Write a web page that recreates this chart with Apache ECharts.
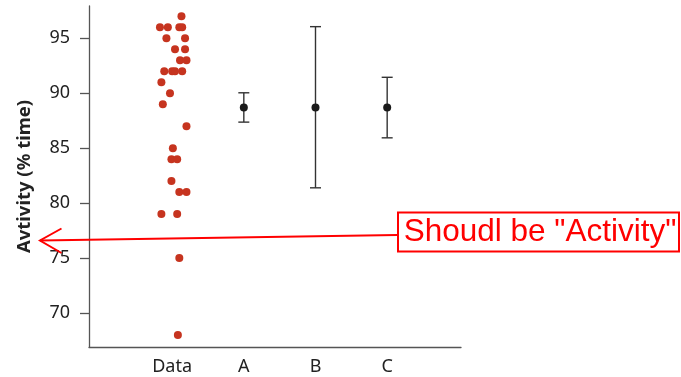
<!DOCTYPE html>
<html>
<head>
<meta charset="utf-8">
<script src="https://cdn.jsdelivr.net/npm/echarts@6/dist/echarts.min.js"></script>
<style>html,body{margin:0;padding:0;background:#fff}#c{width:681px;height:377px}</style>
</head>
<body>
<div id="c"></div>
<script>
// Category labels and their positions on the x scale
var categories = ['Data', 'A', 'B', 'C'];
var categoryPos = [1, 2, 3, 4];
var yTicks = [70, 75, 80, 85, 90, 95];

// Raw observations (x = jittered position around "Data", y = activity %)
var dataX = [1.13, 0.83, 0.94, 1.10, 1.14, 0.92, 1.18, 1.04, 1.18, 1.11, 1.20,
             0.89, 1.00, 1.04, 1.14, 0.85, 0.97, 0.87, 1.20, 1.01, 0.99, 1.07,
             0.99, 1.10, 1.20, 0.85, 1.07, 1.10, 1.08];
var dataY = [97, 96, 96, 96, 96, 95, 95, 94, 94, 93, 93,
             92, 92, 92, 92, 91, 90, 89, 87, 85, 84, 84,
             82, 81, 81, 79, 79, 75, 68];

// Summary series: mean with lower / upper bounds
var summaryX = [2, 3, 4];
var summaryMean = [88.7, 88.7, 88.7];
var summaryLow = [87.37, 81.39, 85.94];
var summaryHigh = [90.04, 96.06, 91.45];

var chart = echarts.init(document.getElementById('c'), null, {renderer: 'canvas'});

var rawPoints = dataX.map(function (x, i) { return [x, dataY[i]]; });
var meanPoints = summaryX.map(function (x, i) { return [x, summaryMean[i]]; });
var barData = summaryX.map(function (x, i) { return [x, summaryLow[i], summaryHigh[i]]; });

var textColor = '#222';
var axisColor = '#555';

chart.setOption({
  animation: false,
  backgroundColor: '#fff',
  grid: {left: 89, right: 220, top: 6, bottom: 30},
  xAxis: {
    type: 'value',
    min: -0.16,
    max: 5.03,
    splitLine: {show: false},
    axisLine: {show: true, onZero: false, lineStyle: {color: axisColor, width: 1.3}},
    axisTick: {show: false},
    axisLabel: {
      customValues: categoryPos,
      formatter: function (v) {
        var i = categoryPos.indexOf(Math.round(v));
        return i >= 0 ? categories[i] : '';
      },
      color: textColor,
      fontFamily: 'Noto Sans',
      fontSize: 18,
      margin: 11
    }
  },
  yAxis: {
    type: 'value',
    min: 66.9,
    max: 97.94,
    splitLine: {show: false},
    axisLine: {show: true, onZero: false, lineStyle: {color: axisColor, width: 1.3}},
    axisTick: {show: true, customValues: yTicks, length: 9, lineStyle: {color: axisColor, width: 1.3}},
    axisLabel: {
      customValues: yTicks,
      color: textColor,
      fontFamily: 'Noto Sans',
      fontSize: 18,
      margin: 19
    },
    name: 'Avtivity (% time)',
    nameLocation: 'middle',
    nameRotate: 90,
    nameGap: 55,
    nameTextStyle: {
      color: textColor,
      fontFamily: 'Noto Sans',
      fontWeight: 'bold',
      fontSize: 18.5
    }
  },
  series: [
    {
      type: 'scatter',
      data: rawPoints,
      symbolSize: 8,
      itemStyle: {color: '#c6341f', opacity: 1},
      z: 3
    },
    {
      type: 'custom',
      data: barData,
      renderItem: function (params, api) {
        var x = api.value(0);
        var lo = api.coord([x, api.value(1)]);
        var hi = api.coord([x, api.value(2)]);
        var hw = 5.5;
        var style = {stroke: '#333', lineWidth: 1.4};
        return {
          type: 'group',
          children: [
            {type: 'line', shape: {x1: lo[0], y1: lo[1], x2: hi[0], y2: hi[1]}, style: style},
            {type: 'line', shape: {x1: lo[0] - hw, y1: lo[1], x2: lo[0] + hw, y2: lo[1]}, style: style},
            {type: 'line', shape: {x1: hi[0] - hw, y1: hi[1], x2: hi[0] + hw, y2: hi[1]}, style: style}
          ]
        };
      },
      z: 2
    },
    {
      type: 'scatter',
      data: meanPoints,
      symbolSize: 8,
      itemStyle: {color: '#1a1a1a', opacity: 1},
      z: 4
    }
  ],
  graphic: [
    {
      type: 'polyline',
      shape: {points: [[397, 235], [40, 240.5]]},
      style: {stroke: '#ff0000', lineWidth: 2, fill: null},
      z: 100
    },
    {
      type: 'polyline',
      shape: {points: [[61.5, 228.5], [40, 240.5], [61.5, 253]]},
      style: {stroke: '#ff0000', lineWidth: 2, fill: null},
      z: 100
    },
    {
      type: 'rect',
      shape: {x: 398, y: 212.5, width: 281, height: 39},
      style: {stroke: '#ff0000', lineWidth: 2, fill: '#fff'},
      z: 100
    },
    {
      type: 'text',
      x: 540,
      y: 232,
      style: {
        text: 'Shoudl be "Activity"',
        fill: '#ff0000',
        font: '31.5px "Liberation Sans", Arial, sans-serif',
        align: 'center',
        verticalAlign: 'middle'
      },
      z: 101
    }
  ]
});
</script>
</body>
</html>
